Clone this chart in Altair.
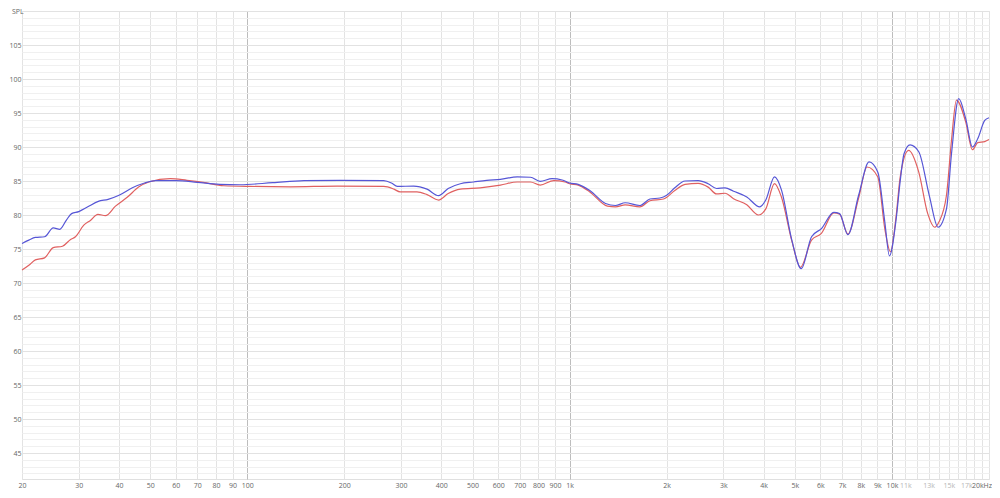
import altair as alt
import pandas as pd

# ---- data (frequency in Hz, level in dB SPL) ----
blue_f = [20, 21, 22, 23.5, 25, 26.2, 27.5, 28.5, 30, 32, 34.5, 37, 40, 44, 48, 52, 60, 70, 82, 95,
          120, 150, 194, 265, 280, 292, 328, 361, 392, 420, 458, 503, 553, 610, 688, 756, 810, 882, 948,
          1000, 1063, 1155, 1292, 1388, 1487, 1652, 1775, 1907, 2000, 2120, 2280, 2505, 2690, 2856, 3034,
          3225, 3545, 3890, 4060, 4320, 4540, 4890, 5230, 5630, 6040, 6600, 6880, 7300, 7880, 8490, 9040,
          9500, 9820, 10310, 10600, 10900, 11380, 12110, 13050, 13900, 14760, 15300, 16110, 16930, 17770,
          18450, 19400, 20000]
blue_db = [75.8, 76.3, 76.7, 76.8, 78.1, 77.9, 79.3, 80.2, 80.5, 81.2, 82.0, 82.3, 82.9, 84.0, 84.7, 85.05,
           85.05, 84.8, 84.5, 84.45, 84.75, 85.05, 85.1, 85.05, 84.7, 84.2, 84.25, 83.8, 82.85, 83.9, 84.6,
           84.85, 85.1, 85.25, 85.6, 85.55, 84.95, 85.35, 85.15, 84.7, 84.5, 83.6, 81.7, 81.4, 81.8, 81.4,
           82.35, 82.5, 82.9, 84.0, 85.0, 85.06, 84.6, 83.9, 84.0, 83.5, 82.65, 81.2, 82.2, 85.6, 83.7,
           76.3, 72.1, 76.8, 78.0, 80.4, 80.2, 77.1, 82.9, 87.8, 86.3, 79.0, 74.0, 79.5, 84.9, 89.0, 90.3,
           89.3, 82.9, 78.2, 80.9, 89.0, 97.1, 94.2, 90.0, 91.2, 93.9, 94.3]

red_f = [20, 21, 22, 23.5, 25, 26.7, 28.3, 29.3, 31.1, 32.6, 34.4, 36.3, 39, 42.4, 46, 49.5, 57.7, 65, 73,
         84.5, 102, 136, 190, 265, 285, 298, 336, 361, 392, 420, 458, 528, 610, 688, 756, 810, 893, 968,
         1000, 1063, 1155, 1310, 1388, 1487, 1652, 1775, 1955, 2120, 2280, 2505, 2690, 2856, 3034, 3225,
         3545, 3850, 4060, 4320, 4540, 4890, 5200, 5630, 6040, 6600, 6880, 7300, 7880, 8370, 9040, 9500,
         9890, 10310, 10600, 11260, 12110, 12910, 13570, 14000, 14760, 15300, 15850, 16930, 17770, 18450,
         19400, 20000]
red_db = [71.9, 72.6, 73.4, 73.7, 75.2, 75.4, 76.4, 76.8, 78.5, 79.2, 80.1, 79.9, 81.3, 82.6, 84.1, 84.85,
          85.35, 85.1, 84.8, 84.3, 84.2, 84.15, 84.25, 84.2, 83.8, 83.4, 83.4, 83.0, 82.2, 83.15, 83.8,
          84.0, 84.4, 84.85, 84.85, 84.4, 85.06, 84.85, 84.6, 84.4, 83.4, 81.3, 81.2, 81.5, 81.2, 82.1,
          82.35, 83.6, 84.5, 84.66, 84.1, 83.1, 83.2, 82.4, 81.5, 80.0, 80.9, 84.6, 82.65, 76.2, 72.3,
          76.3, 77.3, 80.3, 80.1, 77.2, 82.5, 87.06, 85.6, 78.0, 74.6, 80.0, 85.5, 89.5, 86.3, 80.2, 78.2,
          79.0, 82.9, 91.0, 96.9, 93.7, 89.6, 90.65, 90.8, 91.1]

# ---- axis ticks / labels ----
x_grid = [20, 30, 40, 50, 60, 70, 80, 90, 100, 200, 300, 400, 500, 600, 700, 800, 900,
          1000, 2000, 3000, 4000, 5000, 6000, 7000, 8000, 9000, 10000,
          11000, 12000, 13000, 14000, 15000, 16000, 17000, 18000, 19000, 20000]
x_label_vals = [20, 30, 40, 50, 60, 70, 80, 90, 100, 200, 300, 400, 500, 600, 700, 800, 900,
                1000, 2000, 3000, 4000, 5000, 6000, 7000, 8000, 9000, 10000,
                11000, 13000, 15000, 17000, 20000]
x_label_txt = ["20", "30", "40", "50", "60", "70", "80", "90", "100", "200", "300", "400", "500",
               "600", "700", "800", "900", "1k", "2k", "3k", "4k", "5k", "6k", "7k", "8k", "9k",
               "10k", "11k", "13k", "15k", "17k", "20kHz"]
y_labels = [45, 50, 55, 60, 65, 70, 75, 80, 85, 90, 95, 100, 105]

PLOT_W, PLOT_H = 967, 468
PX_PER_DB = 6.8
Y_MAX = 110
Y_MIN = Y_MAX - PLOT_H / PX_PER_DB
y_grid = [v for v in range(int(Y_MIN) + 1, Y_MAX + 1)]

x_expr = "''"
for v, t in reversed(list(zip(x_label_vals, x_label_txt))):
    x_expr = f"datum.value == {v} ? '{t}' : ({x_expr})"
y_expr = "''"
for v in reversed(y_labels):
    y_expr = f"datum.value == {v} ? '{v}' : ({y_expr})"

FONT = "Open Sans"
xscale = alt.Scale(type="log", domain=[20, 20000], nice=False)
yscale = alt.Scale(domain=[Y_MIN, Y_MAX], nice=False, zero=False)

xaxis = alt.Axis(
    values=x_grid, labelExpr=x_expr, title=None, domain=False, ticks=False,
    labelFlush=False, labelOverlap=False, labelPadding=2, labelFont=FONT, labelFontSize=7,
    labelColor={"condition": {"test": "datum.value >= 11000 && datum.value < 20000", "value": "#b5b5b5"},
                "value": "#666666"},
    labelAlign={"condition": {"test": "datum.value >= 20000", "value": "right"}, "value": "center"},
    labelOffset={"condition": {"test": "datum.value >= 20000", "value": 2.5}, "value": 0},
    grid=True, gridWidth=1,
    gridColor={"condition": {"test": "datum.value == 100 || datum.value == 1000 || datum.value == 10000",
                             "value": "#bdbdbd"}, "value": "#e3e3e3"},
)
yaxis = alt.Axis(
    values=y_grid, labelExpr=y_expr, title=None, domain=False, ticks=False,
    labelOverlap=False, labelPadding=1, labelFont=FONT, labelFontSize=7, labelColor="#666666",
    labelFlush=False,
    grid=True, gridWidth=1,
    gridColor={"condition": {"test": "datum.value % 5 == 0", "value": "#e2e2e2"}, "value": "#f0f0f0"},
)

red_df = pd.DataFrame({"f": red_f, "db": red_db})
blue_df = pd.DataFrame({"f": blue_f, "db": blue_db})

red = alt.Chart(red_df).mark_line(color="#e06060", strokeWidth=1.2, interpolate="monotone").encode(
    x=alt.X("f:Q", scale=xscale, axis=xaxis),
    y=alt.Y("db:Q", scale=yscale, axis=yaxis),
)
blue = alt.Chart(blue_df).mark_line(color="#5656d6", strokeWidth=1.2, interpolate="monotone").encode(
    x=alt.X("f:Q", scale=xscale, axis=xaxis),
    y=alt.Y("db:Q", scale=yscale, axis=yaxis),
)
spl = alt.Chart(pd.DataFrame({"t": ["SPL"]})).mark_text(
    align="left", baseline="top", font=FONT, fontSize=7, color="#666666"
).encode(x=alt.value(-10), y=alt.value(-3), text="t:N")

chart = alt.layer(red, blue, spl).properties(
    width=PLOT_W, height=PLOT_H,
    padding={"left": 14, "top": 3, "right": 3, "bottom": 10},
    autosize=alt.AutoSizeParams(type="none"),
).configure(background="white").configure_view(stroke="#e0e0e0")

chart.save("out.html", embed_options={"renderer": "svg", "actions": False})
